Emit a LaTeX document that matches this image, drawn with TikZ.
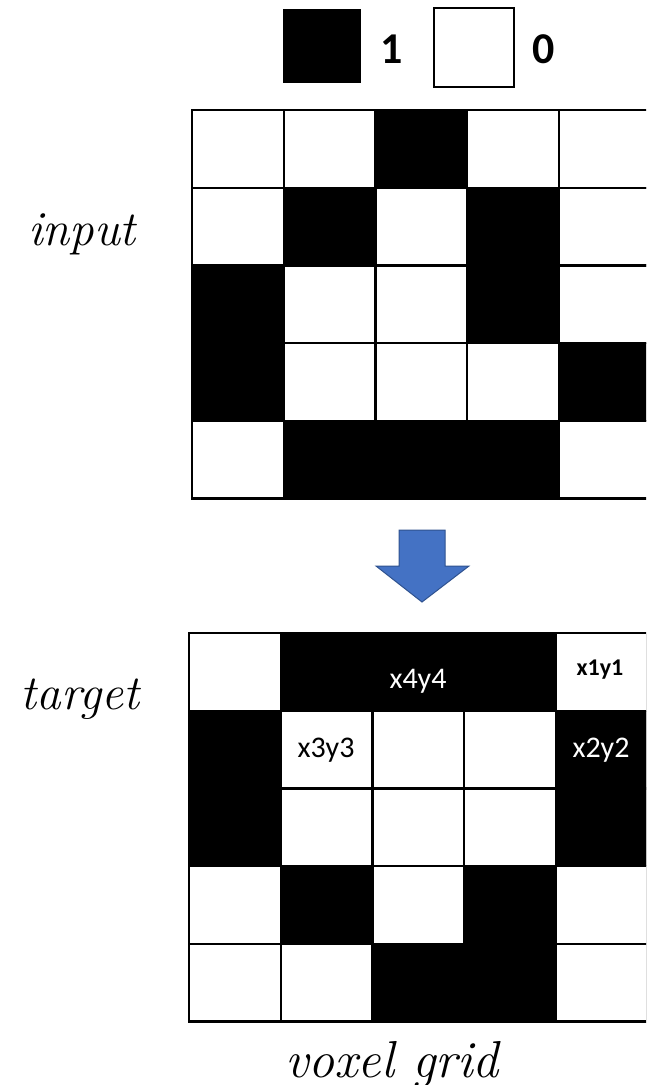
\documentclass[tikz,border=0pt]{standalone}
\usepackage{fontspec}
\newfontfamily\calibri{Carlito}
\definecolor{arrowfill}{RGB}{68,114,196}
\definecolor{arrowline}{RGB}{47,82,143}
\tikzset{
  vox0/.style={draw=black, line width=2.3pt, fill=white, minimum width=91.7pt, minimum height=77.7pt, inner sep=0pt, outer sep=0pt, anchor=north west},
  vox1/.style={vox0, fill=black},
  keynum/.style={font=\calibri\bfseries\fontsize{44}{44}\selectfont, anchor=base, inner sep=0pt},
  tag/.style={font=\calibri\fontsize{30}{30}\selectfont, anchor=base, inner sep=0pt},
  sidelbl/.style={font=\itshape\fontsize{49}{49}\selectfont, anchor=base, inner sep=0pt},
}
\begin{document}
\begin{tikzpicture}[x=1pt, y=-1pt]
  \useasboundingbox (0,0) rectangle (646,1085);
  \clip (0,0) rectangle (646,1085);

  % legend
  \node[vox1, minimum width=76pt, minimum height=72pt] (keyon) at (284,10) {};
  \node[keynum] (one) at (392,63) {1};
  \node[vox0, line width=1.8pt, minimum width=80pt, minimum height=79pt] (keyoff) at (434,8) {};
  \node[keynum] (zero) at (544,63) {0};

  % input grid
  \foreach \r/\vals in {0/{0,0,1,0,0},1/{0,1,0,1,0},2/{1,0,0,1,0},3/{1,0,0,0,1},4/{0,1,1,1,0}}
    \foreach \v [count=\c from 0] in \vals
      \node[vox\v] (in-\r-\c) at (192+\c*91.7, 110+\r*77.7) {};

  \node[sidelbl] (input) at (82,245) {input};

  % arrow
  \filldraw[fill=arrowfill, draw=arrowline, line width=1pt]
    (399,530) -- (445,530) -- (445,566) -- (469,566) -- (422,602) -- (376,566) -- (399,566) -- cycle;

  % target grid
  \foreach \r/\vals in {0/{0,1,1,1,0},1/{1,0,0,0,1},2/{1,0,0,0,1},3/{0,1,0,1,0},4/{0,0,1,1,0}}
    \foreach \v [count=\c from 0] in \vals
      \node[vox\v] (tg-\r-\c) at (189+\c*91.7, 633+\r*77.7) {};

  \node[sidelbl] (target) at (80,709) {target};

  % corner labels
  \node[tag, text=white] (x4y4) at (418,688) {x4y4};
  \node[tag, font=\calibri\bfseries\fontsize{24}{24}\selectfont] (x1y1) at (600,675) {x1y1};
  \node[tag] (x3y3) at (326,757) {x3y3};
  \node[tag, text=white] (x2y2) at (601,757) {x2y2};

  \node[sidelbl, font=\itshape\fontsize{52}{52}\selectfont] (voxgrid) at (392,1077) {voxel grid};
\end{tikzpicture}
\end{document}
